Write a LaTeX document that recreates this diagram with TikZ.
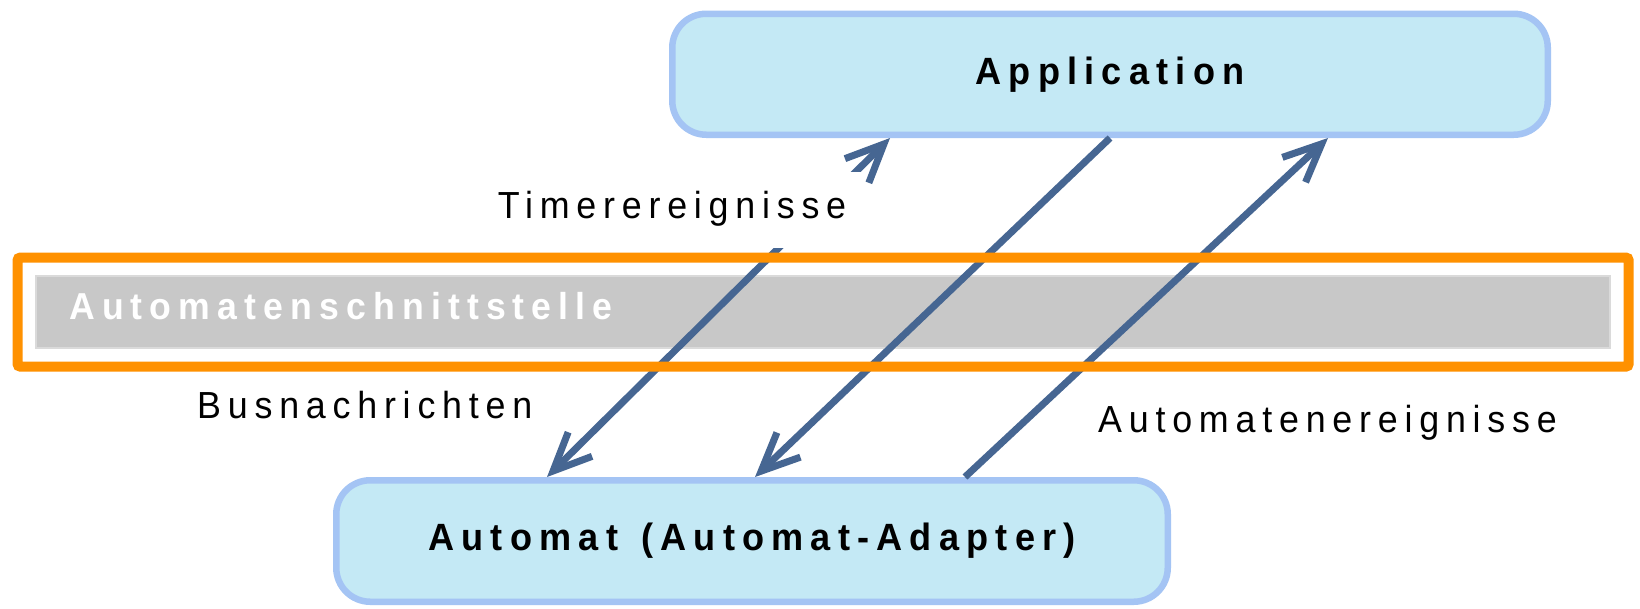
\documentclass[tikz,border=0pt]{standalone}
\usepackage{fontspec}
\setmainfont{Liberation Sans}
% slightly condensed, tracked sans for all texts
\newfontfamily\labelfont[FakeStretch=0.95,LetterSpace=18]{Liberation Sans}
\newfontfamily\titlefont[FakeStretch=0.95,LetterSpace=19]{Liberation Sans Bold}
\usetikzlibrary{arrows.meta}

\definecolor{boxfill}{RGB}{196,233,245}
\definecolor{boxline}{RGB}{164,196,244}
\definecolor{flowc}{RGB}{70,102,146}
\definecolor{frameorange}{RGB}{255,145,0}
\definecolor{barfill}{RGB}{200,200,200}
\definecolor{baredge}{RGB}{218,218,218}

\begin{document}
\begin{tikzpicture}[x=1pt,y=-1pt,
  >={Straight Barb[length=38pt,width=34pt,sharp]},
  unit/.style={draw=boxline, fill=boxfill, line width=6.5pt, rounded corners=34pt,
    font=\titlefont\fontsize{38}{40}\selectfont, text=black},
  flow/.style={draw=flowc, line width=7pt},
  lab/.style={font=\labelfont\fontsize{37.7}{40}\selectfont, inner sep=0pt, anchor=base west},
  ifclab/.style={font=\titlefont\fontsize{37.5}{40}\selectfont, text=white, inner sep=0pt, anchor=base west},
  bar/.style={fill=barfill, draw=baredge, line width=2pt, inner sep=0pt},
  frame/.style={draw=frameorange, line width=10pt, rounded corners=3pt, inner sep=0pt}]

\useasboundingbox[fill=white] (0,0) rectangle (1640,608);

% the two communicating parties
\node[unit, minimum width=875.5pt, minimum height=121pt] (app) at (1110,74.25) {Application};
\node[unit, minimum width=831.5pt, minimum height=121.5pt] (aut) at (752,541) {Automat\hspace{6pt} (Automat-Adapter)};

% interface layer
\node[bar, minimum width=1574.5pt, minimum height=72pt] (bar) at (822.75,312) {};
\node[ifclab] (ifc) at (69,319) {Automatenschnittstelle};

% message flows
\draw[flow, <->] ([xshift=-205pt]aut.north) -- ([xshift=-220pt]app.south);
\draw[flow, ->] (app.south) -- ([xshift=3pt]aut.north);
\draw[flow, ->] ([xshift=213pt]aut.north) -- ([xshift=218pt]app.south);

% flow labels
\node[font=\labelfont\fontsize{37.7}{40}\selectfont, fill=white, inner sep=0pt,
  minimum width=380pt, minimum height=76pt, text height=28pt, text depth=12pt] (timer) at (672,210) {Timerereignisse};
\node[lab] (bus) at (197,418) {Busnachrichten};
\node[lab] (evt) at (1098,432) {Automatenereignisse};

% highlighted frame around the interface
\node[frame, minimum width=1611.2pt, minimum height=109.2pt] (frm) at (823.1,312.1) {};
\end{tikzpicture}
\end{document}
